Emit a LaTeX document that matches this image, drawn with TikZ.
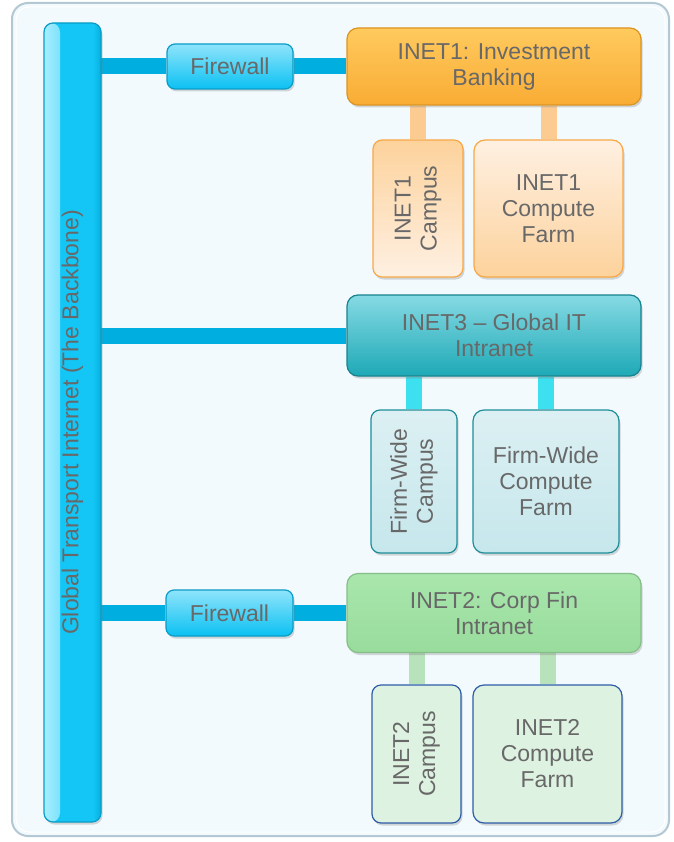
\documentclass[tikz,border=0pt]{standalone}
\usepackage{fontspec}
\setmainfont{Liberation Sans}
\usetikzlibrary{shadows,backgrounds}
\definecolor{PanelClr}{rgb}{0.949,0.980,0.996}
\definecolor{PanelEdgeClr}{rgb}{0.702,0.784,0.824}
\definecolor{TextClr}{rgb}{0.408,0.408,0.408}
\definecolor{LinkClr}{rgb}{0,0.682,0.875}
\definecolor{BoneLightClr}{rgb}{0.651,0.933,1}
\definecolor{BoneClr}{rgb}{0.078,0.776,0.961}
\definecolor{BoneDarkClr}{rgb}{0.020,0.690,0.878}
\definecolor{BoneEdgeClr}{rgb}{0.039,0.612,0.776}
\definecolor{FwTopClr}{rgb}{0.561,0.894,0.984}
\definecolor{FwBotClr}{rgb}{0.043,0.757,0.949}
\definecolor{InvTopClr}{rgb}{1,0.792,0.369}
\definecolor{InvBotClr}{rgb}{0.976,0.675,0.204}
\definecolor{InvEdgeClr}{rgb}{0.863,0.580,0.129}
\definecolor{InvStubClr}{rgb}{0.988,0.796,0.573}
\definecolor{InvDarkClr}{rgb}{0.992,0.824,0.612}
\definecolor{InvPaleClr}{rgb}{0.996,0.941,0.886}
\definecolor{InvLineClr}{rgb}{0.973,0.659,0.275}
\definecolor{GitTopClr}{rgb}{0.525,0.855,0.894}
\definecolor{GitBotClr}{rgb}{0.118,0.663,0.714}
\definecolor{GitEdgeClr}{rgb}{0.090,0.514,0.561}
\definecolor{GitStubClr}{rgb}{0.235,0.878,0.933}
\definecolor{GitPaleClr}{rgb}{0.863,0.941,0.953}
\definecolor{GitDarkClr}{rgb}{0.776,0.906,0.925}
\definecolor{GitLineClr}{rgb}{0.118,0.557,0.600}
\definecolor{CfTopClr}{rgb}{0.663,0.902,0.675}
\definecolor{CfBotClr}{rgb}{0.596,0.863,0.612}
\definecolor{CfEdgeClr}{rgb}{0.525,0.745,0.537}
\definecolor{CfStubClr}{rgb}{0.722,0.886,0.733}
\definecolor{CfPaleClr}{rgb}{0.871,0.949,0.882}
\definecolor{CfLineClr}{rgb}{0.176,0.361,0.659}

\tikzset{
  box/.style={draw,line width=1.2pt,inner sep=0pt,align=center,text=TextClr,
    font=\fontsize{23}{26}\selectfont,
    drop shadow={shadow xshift=1.5pt,shadow yshift=-2.5pt,opacity=.3}},
  inet/.style={box,rounded corners=11pt,minimum width=294pt},
  fwall/.style={box,rounded corners=8pt,draw=BoneEdgeClr,top color=FwTopClr,bottom color=FwBotClr},
  campus/.style={box,rounded corners=9pt,rotate=90},
  farm/.style={box,rounded corners=11pt,minimum width=149pt,minimum height=138pt},
  link/.style={line width=16pt,draw=LinkClr},
  stub/.style={line width=16pt},
  % cyan bar with a light strip on its left side
  bone/.style={box,rounded corners=9pt,draw=BoneEdgeClr,fill=BoneClr,
    path picture={
      \shade[left color=BoneLightClr,right color=BoneClr]
        (path picture bounding box.south west) rectangle ([xshift=16pt]path picture bounding box.north west);
      \shade[left color=BoneClr,right color=BoneDarkClr]
        ([xshift=-8pt]path picture bounding box.south east) rectangle (path picture bounding box.north east);}}
}

\begin{document}
\begin{tikzpicture}[x=1pt,y=-1pt]
\useasboundingbox (0,0) rectangle (673,842);

\node[bone,minimum width=57pt,minimum height=799pt] (bb) at (72.5,422.5)
  {\rotatebox{90}{Global Transport Internet (The Backbone)}};

\node[fwall,minimum width=126pt,minimum height=45pt] (fwA) at (230,66.5) {Firewall};
\node[fwall,minimum width=127pt,minimum height=46pt] (fwB) at (229.5,613) {Firewall};

\node[inet,minimum height=77pt,draw=InvEdgeClr,top color=InvTopClr,bottom color=InvBotClr] (inetA) at (494,66.5)
  {INET1: Investment\\Banking};
\node[inet,minimum height=81pt,draw=GitEdgeClr,top color=GitTopClr,bottom color=GitBotClr] (inetC) at (494,335.5)
  {INET3 -- Global IT\\Intranet};
\node[inet,minimum height=79pt,draw=CfEdgeClr,top color=CfTopClr,bottom color=CfBotClr] (inetB) at (494,613)
  {INET2: Corp Fin\\Intranet};

\node[campus,minimum width=137pt,minimum height=90pt,draw=InvLineClr,top color=InvDarkClr,bottom color=InvPaleClr] (campA) at (418,208.5)
  {INET1\\Campus};
\node[farm,minimum height=137pt,draw=InvLineClr,top color=InvPaleClr,bottom color=InvDarkClr] (farmA) at (548.5,208.5)
  {INET1\\Compute\\Farm};

\node[campus,minimum width=143pt,minimum height=86pt,draw=GitLineClr,top color=GitPaleClr,bottom color=GitDarkClr] (campC) at (414,481.5)
  {Firm-Wide\\Campus};
\node[farm,minimum width=146pt,minimum height=143pt,draw=GitLineClr,top color=GitPaleClr,bottom color=GitDarkClr] (farmC) at (546,481.5)
  {Firm-Wide\\Compute\\Farm};

\node[campus,minimum width=138pt,minimum height=89pt,draw=CfLineClr,fill=CfPaleClr] (campB) at (416.5,754)
  {INET2\\Campus};
\node[farm,draw=CfLineClr,fill=CfPaleClr] (farmB) at (547.5,754)
  {INET2\\Compute\\Farm};

\begin{scope}[on background layer]
\draw[line width=2pt,draw=PanelEdgeClr,fill=PanelClr,rounded corners=16pt] (12,3) rectangle (669,836);
\draw[line width=1pt,draw=white,rounded corners=13pt] (16,7) rectangle (665,832);

\draw[link] (fwA.west) -- (fwA.west -| bb.center);
\draw[link] (fwA.east) -- (fwA.east -| inetA.west);
\draw[link] (inetC.west) -- (inetC.west -| bb.center);
\draw[link] (fwB.west) -- (fwB.west -| bb.center);
\draw[link] (fwB.east) -- (fwB.east -| inetB.west);

\draw[stub,InvStubClr] (campA.east) -- (campA.east |- inetA.south);
\draw[stub,InvStubClr] (farmA.north) -- (farmA.north |- inetA.south);
\draw[stub,GitStubClr] (campC.east) -- (campC.east |- inetC.south);
\draw[stub,GitStubClr] (farmC.north) -- (farmC.north |- inetC.south);
\draw[stub,CfStubClr] (campB.east) -- (campB.east |- inetB.south);
\draw[stub,CfStubClr] (farmB.north) -- (farmB.north |- inetB.south);
\end{scope}
\end{tikzpicture}
\end{document}
